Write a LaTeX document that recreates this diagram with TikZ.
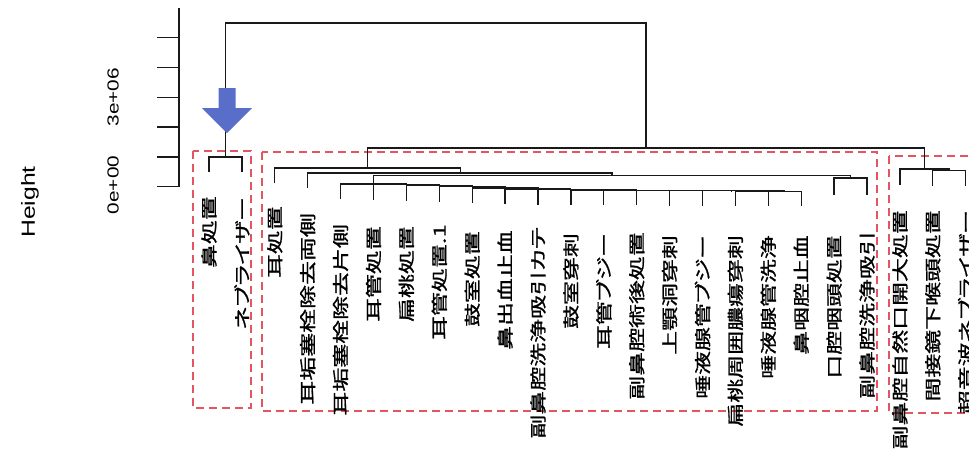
\documentclass[tikz,border=0pt]{standalone}
\usepackage{graphicx}
\usepackage{fontspec}
\setmainfont{Liberation Sans}
\newfontfamily\jpfont[RawFeature=+palt,FakeBold=1]{Noto Sans CJK JP}
\definecolor{boxred}{RGB}{226,86,98}
\definecolor{arrowblue}{RGB}{88,110,200}
\tikzset{
  tree/.style={line width=1.3pt, draw=black!90, line join=miter},
  redbox/.style={draw=boxred, line width=1.2pt, dash pattern=on 8pt off 5pt},
  leaflab/.style={rotate=90, anchor=east, inner sep=0pt, font=\jpfont\fontsize{16.5}{17}\selectfont},
  ticklab/.style={rotate=90, inner sep=0pt, font=\fontsize{16}{16}\selectfont},
  axislab/.style={rotate=90, inner sep=0pt, font=\fontsize{19}{19}\selectfont},
}
\newcommand\jlab[4]{\node[leaflab] (#1) at (#2,#3) {\scalebox{1.45}[1]{#4}};}
\begin{document}
\begin{tikzpicture}[x=1pt,y=-1pt]
\useasboundingbox[fill=white] (0,0) rectangle (969,456);

% axis
\draw[tree] (179,8) -- (179,187);
\foreach \ty in {186.7,156.9,127.1,97.3,67.5,37.7}
  \draw[tree] (157,\ty) -- (179,\ty);
\node[ticklab] (t00) at (113,185) {\scalebox{1.3}[1]{0e+00}};
\node[ticklab] (t36) at (113,97.3) {\scalebox{1.3}[1]{3e+06}};
\node[axislab] (ylab) at (30,202) {\scalebox{1.3}[1]{Height}};

% red dashed groups
\draw[redbox] (193,151) rectangle (251,408);
\draw[redbox] (262,152) rectangle (877,411);
\draw[redbox] (889,156) rectangle (990,413);

% leaf tips
\coordinate (t0) at (209,172);
\coordinate (t1) at (241.9,172);
\coordinate (t2) at (274.8,183);
\coordinate (t3) at (307.7,188);
\coordinate (t4) at (340.6,199);
\coordinate (t5) at (373.5,199.5);
\coordinate (t6) at (406.4,200.5);
\coordinate (t7) at (439.3,201.5);
\coordinate (t8) at (472.2,203);
\coordinate (t9) at (505.1,204);
\coordinate (t10) at (538.0,204.5);
\coordinate (t11) at (570.9,205);
\coordinate (t12) at (603.8,205.2);
\coordinate (t13) at (636.7,205.4);
\coordinate (t14) at (669.6,205.6);
\coordinate (t15) at (702.5,205.8);
\coordinate (t16) at (735.4,206);
\coordinate (t17) at (768.3,206.2);
\coordinate (t18) at (801.2,206.2);
\coordinate (t19) at (834.1,195);
\coordinate (t20) at (867.0,195);
\coordinate (t21) at (899.9,185);
\coordinate (t22) at (932.8,186);
\coordinate (t23) at (965.7,186);

% internal nodes
\coordinate (C17) at (784.75,191.2);
\coordinate (C16) at (760.08,191.0);
\coordinate (C15) at (731.29,190.8);
\coordinate (C14) at (700.44,190.6);
\coordinate (C13) at (668.57,190.4);
\coordinate (C12) at (636.19,190.2);
\coordinate (C11) at (603.54,190.0);
\coordinate (C10) at (570.77,189.5);
\coordinate (C9) at (537.94,189);
\coordinate (C8) at (505.07,188);
\coordinate (C7) at (472.18,186.5);
\coordinate (C6) at (439.29,185.5);
\coordinate (C5) at (406.4,184.5);
\coordinate (C4) at (373.5,184);
\coordinate (P) at (850.55,178);
\coordinate (N2) at (612,175.5);
\coordinate (N1) at (460.4,173);
\coordinate (E) at (367.6,168);
\coordinate (L) at (225.45,157);
\coordinate (Q) at (949.25,170.5);
\coordinate (R) at (924.6,169);
\coordinate (Big) at (646.1,148);
\coordinate (Root) at (435.8,23);

% merges
\draw[tree] (t17) |- (C17) -| (t18);
\draw[tree] (t16) |- (C16) -| (C17);
\draw[tree] (t15) |- (C15) -| (C16);
\draw[tree] (t14) |- (C14) -| (C15);
\draw[tree] (t13) |- (C13) -| (C14);
\draw[tree] (t12) |- (C12) -| (C13);
\draw[tree] (t11) |- (C11) -| (C12);
\draw[tree] (t10) |- (C10) -| (C11);
\draw[tree] (t9) |- (C9) -| (C10);
\draw[tree] (t8) |- (C8) -| (C9);
\draw[tree] (t7) |- (C7) -| (C8);
\draw[tree] (t6) |- (C6) -| (C7);
\draw[tree] (t5) |- (C5) -| (C6);
\draw[tree] (t4) |- (C4) -| (C5);
\draw[tree] (t19) |- (P) -| (t20);
\draw[tree] (C4) |- (N2) -| (P);
\draw[tree] (t3) |- (N1) -| (N2);
\draw[tree] (t2) |- (E) -| (N1);
\draw[tree] (t0) |- (L) -| (t1);
\draw[tree] (t22) |- (Q) -| (t23);
\draw[tree] (t21) |- (R) -| (Q);
\draw[tree] (E) |- (Big) -| (R);
\draw[tree] (L) |- (Root) -| (Big);

% blue arrow
\fill[arrowblue] (218.5,88) -- (235.5,88) -- (235.5,108) -- (252,108)
   -- (227,133) -- (202,108) -- (218.5,108) -- cycle;

% leaf labels
\jlab{l0}{209}{196}{鼻処置}
\jlab{l1}{241.9}{197}{ネブライザー}
\jlab{l2}{274.8}{206}{耳処置}
\jlab{l3}{307.7}{213}{耳垢塞栓除去両側}
\jlab{l4}{340.6}{224}{耳垢塞栓除去片側}
\jlab{l5}{373.5}{226}{耳管処置}
\jlab{l6}{406.4}{226}{扁桃処置}
\jlab{l7}{439.3}{224}{耳管処置.1}
\jlab{l8}{472.2}{231}{鼓室処置}
\jlab{l9}{505.1}{230}{鼻出血止血}
\jlab{l10}{538.0}{227}{副鼻腔洗浄吸引カテ}
\jlab{l11}{570.9}{233}{鼓室穿刺}
\jlab{l12}{603.8}{233}{耳管ブジー}
\jlab{l13}{636.7}{232}{副鼻腔術後処置}
\jlab{l14}{669.6}{235}{上顎洞穿刺}
\jlab{l15}{702.5}{235}{唾液腺管ブジー}
\jlab{l16}{735.4}{235}{扁桃周囲膿瘍穿刺}
\jlab{l17}{768.3}{235}{唾液腺管洗浄}
\jlab{l18}{801.2}{235}{鼻咽腔止血}
\jlab{l19}{834.1}{235}{口腔咽頭処置}
\jlab{l20}{867.0}{231}{副鼻腔洗浄吸引}
\jlab{l21}{899.9}{210}{副鼻腔自然口開大処置}
\jlab{l22}{932.8}{210}{間接鏡下喉頭処置}
\jlab{l23}{965.7}{210}{超音波ネブライザー}
\end{tikzpicture}
\end{document}
